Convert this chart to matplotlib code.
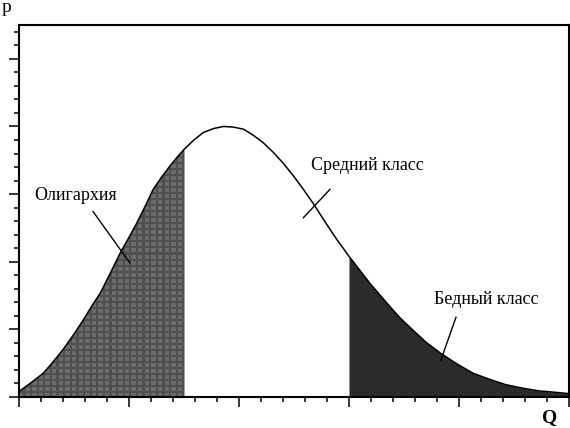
import numpy as np
import matplotlib
matplotlib.use('Agg')
import matplotlib.pyplot as plt
from matplotlib.ticker import MultipleLocator

# точки кривой распределения (Q - доход, p - плотность)
q = [0.0, 0.1, 0.22, 0.3, 0.40, 0.5, 0.585, 0.66, 0.74, 0.83, 0.92, 1.0, 1.07,
     1.15, 1.22, 1.3, 1.37, 1.44, 1.5, 1.59, 1.675, 1.77, 1.86, 1.95, 2.04,
     2.13, 2.22, 2.31, 2.40, 2.49, 2.585, 2.68, 2.77, 2.88, 3.0, 3.1, 3.19,
     3.28, 3.37, 3.47, 3.58, 3.7, 3.83, 3.98, 4.13, 4.28, 4.43, 4.58, 4.73,
     4.87, 5.0]
p = [0.08, 0.20, 0.35, 0.50, 0.70, 0.93, 1.14, 1.34, 1.54, 1.83, 2.13, 2.36, 2.57,
     2.83, 3.07, 3.26, 3.41, 3.55, 3.66, 3.80, 3.91, 3.97, 4.00, 3.99, 3.96,
     3.87, 3.76, 3.62, 3.46, 3.28, 3.07, 2.85, 2.62, 2.35, 2.08, 1.87, 1.68,
     1.51, 1.34, 1.16, 0.99, 0.81, 0.65, 0.49, 0.35, 0.26, 0.18, 0.13, 0.09,
     0.07, 0.05]

granica_olig = 1.5
granica_bedn = 3.0

podpisi = ['Олигархия', 'Средний класс', 'Бедный класс']
tekst_xy = [(0.51, 2.98), (3.17, 3.43), (4.245, 1.44)]
linii = [((0.674, 2.74), (1.009, 1.98)),
         ((2.827, 3.07), (2.585, 2.65)),
         ((3.973, 1.18), (3.834, 0.54))]

q = np.array(q)
p = np.array(p)

plt.rcParams['font.family'] = ['Liberation Serif', 'DejaVu Serif']

fig = plt.figure(figsize=(5.7, 4.28), dpi=100)
ax = fig.add_axes([19/570, 31/428, 550/570, 372/428])

# олигархия - серая заливка с клеточкой
poly = ax.fill_between(q, 0, p, where=q <= granica_olig, color='#505050', lw=0, zorder=1)
nx, ny = 83, 142
ii, jj = np.mgrid[0:ny, 0:nx]
tex = np.where((ii % 3 != 2) & (jj % 3 != 2), 0.42, 0.31)
img = ax.imshow(tex, extent=[0, 1.66, 0, 4.2], origin='lower', cmap='gray',
                vmin=0, vmax=1, interpolation='nearest', aspect='auto', zorder=2)
img.set_clip_path(poly.get_paths()[0], transform=ax.transData)

# бедный класс - тёмная заливка
ax.fill_between(q, 0, p, where=q >= granica_bedn, color='#2b2b2b', lw=0, zorder=2)

ax.plot(q, p, color='black', lw=1.1, zorder=3)

for t, xy, ln in zip(podpisi, tekst_xy, linii):
    ax.text(xy[0], xy[1], t, fontsize=13, ha='center', va='center', zorder=4)
    ax.plot([ln[0][0], ln[1][0]], [ln[0][1], ln[1][1]], color='black', lw=1.0, zorder=4)

ax.set_xlim(0, 5)
ax.set_ylim(0, 5.5)
ax.xaxis.set_major_locator(MultipleLocator(1))
ax.xaxis.set_minor_locator(MultipleLocator(0.2))
ax.yaxis.set_major_locator(MultipleLocator(1))
ax.yaxis.set_minor_locator(MultipleLocator(0.2))
ax.tick_params(which='both', direction='out', labelbottom=False, labelleft=False, width=1.1)
ax.tick_params(which='major', length=7.5)
ax.tick_params(which='minor', length=3.8)
for s in ax.spines.values():
    s.set_linewidth(1.5)

fig.text(6/570, 1 - 8/428, 'p', fontsize=14, ha='center', va='center')
fig.text(550/570, 1 - 418/428, 'Q', fontsize=14, fontweight='bold', ha='center', va='center')

fig.savefig('out.png', dpi=100)
